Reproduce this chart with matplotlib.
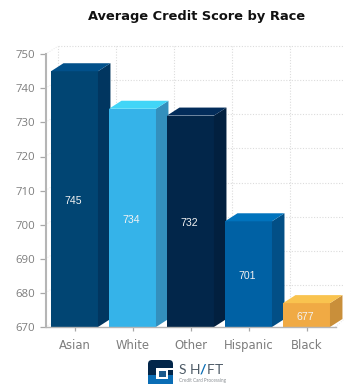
import matplotlib
matplotlib.use("Agg")
import matplotlib.pyplot as plt
from matplotlib.patches import Polygon, Rectangle, FancyBboxPatch

races = ["Asian", "White", "Other", "Hispanic", "Black"]
scores = [745, 734, 732, 701, 677]
yticks = [670, 680, 690, 700, 710, 720, 730, 740, 750]

front_colors = ["#014573", "#35b3e9", "#02264a", "#0061a4", "#f0aa44"]
top_colors = ["#01508a", "#42d5f7", "#032c5a", "#0073bd", "#f9c34f"]
side_colors = ["#013660", "#338fbd", "#02203f", "#024f86", "#c98f3a"]

W, H = 344, 384
fig = plt.figure(figsize=(W / 100, H / 100), dpi=100)
ax = fig.add_axes([45.5 / W, 1 - 327 / H, 290 / W, 272.8 / H])
ax.set_xlim(-0.5, 4.5)
ax.set_ylim(670, 750)

bar_w = 0.81
dx = 0.215   # depth of the fake 3d, in category units
dy = 2.35    # same, in score units
wall = "#dcdcdc"

# back wall grid
for t in yticks[1:]:
    ax.plot([-0.5 + dx, 4.5 + 0.15], [t + dy, t + dy], color=wall, lw=0.8, ls=(0, (1, 1.5)),
            clip_on=False, zorder=1)
for k in range(5):
    ax.plot([-0.5 + dx + k, -0.5 + dx + k], [670 + dy, 750 + dy], color=wall, lw=0.8,
            ls=(0, (1, 1.5)), clip_on=False, zorder=1)
for t in yticks:
    ax.plot([-0.5, -0.5 + dx], [t, t + dy], color="#e6e6e6", lw=0.7, ls=(0, (1, 1.5)),
            clip_on=False, zorder=1)
ax.plot([4.5, 4.5 + 0.15], [670, 670 + dy], color="#e6e6e6", lw=0.7, ls=(0, (1, 1.5)),
        clip_on=False, zorder=1)

for i, (s, name) in enumerate(zip(scores, races)):
    l = i - bar_w / 2
    r = i + bar_w / 2
    z = 3 + i
    ax.bar(i, s - 670, bottom=670, width=bar_w, color=front_colors[i], linewidth=0, zorder=z)
    ax.add_patch(Polygon([(r, 670), (r + dx, 670 + dy), (r + dx, s + dy), (r, s)],
                         closed=True, fc=side_colors[i], ec="none", clip_on=False, zorder=z))
    ax.add_patch(Polygon([(l, s), (l + dx, s + dy), (r + dx, s + dy), (r, s)],
                         closed=True, fc=top_colors[i], ec="none", clip_on=False, zorder=z))
    ax.annotate(str(s), (i, (s + 670) / 2), xytext=(-0.7, -1.5), textcoords="offset points",
                color="#f2f2f2", fontsize=7.6, ha="center", va="center",
                family="Liberation Sans", zorder=20)

ax.patch.set_visible(False)
for side in ["top", "right"]:
    ax.spines[side].set_visible(False)
ax.spines["left"].set_color("#b5b5b5")
ax.spines["left"].set_linewidth(1.5)
ax.spines["bottom"].set_color("#b5b5b5")
ax.spines["bottom"].set_linewidth(1.0)
ax.spines["bottom"].set_zorder(15)

ax.set_xticks(range(5))
ax.set_xticklabels(races)
ax.set_yticks(yticks)
ax.tick_params(axis="y", length=4, width=0.9, color="#a8a8a8", labelcolor="#7d7d7d",
               labelsize=8.2, pad=3.5)
ax.tick_params(axis="x", length=3, width=0.9, color="#a8a8a8", labelcolor="#7d7d7d",
               labelsize=8.4, pad=5.5)
for lab in ax.get_yticklabels():
    lab.set_family("Open Sans")
for lab in ax.get_xticklabels():
    lab.set_family("DejaVu Sans")

fig.text(196.5 / W, 1 - 16.5 / H, "Average Credit Score by Race", fontsize=9.4, fontweight="bold",
         family="DejaVu Sans", color="#111111", ha="center", va="center")

# logo, drawn on a pixel-sized overlay
lg = fig.add_axes([0, 0, 1, 1])
lg.set_xlim(0, W)
lg.set_ylim(H, 0)
lg.axis("off")
lg.add_patch(FancyBboxPatch((148, 360), 25, 24, boxstyle="round,pad=0,rounding_size=4",
                            fc="#02264a", ec="none"))
lg.add_patch(Rectangle((148, 375), 25, 9, fc="#0a6db5", ec="none"))
lg.add_patch(Rectangle((156, 368), 17, 2, fc="white", ec="none"))
lg.add_patch(Rectangle((156, 368), 12, 11, fc="white", ec="none"))
lg.add_patch(Rectangle((158.5, 370.5), 7, 6, fc="#1c5a8c", ec="none"))

# wordmark letters are placed one by one for the wide tracking
for ch, x in zip("SHFT", [179, 190, 207, 215]):
    lg.text(x, 370, ch, fontsize=10, family="Lato", color="#4d5a66", va="center", ha="left")
lg.text(202.5, 370, "/", fontsize=10, family="Lato", fontweight="bold", color="#0a6db5",
        va="center", ha="center")
lg.text(179, 380.5, "Credit Card Processing", fontsize=3.3, family="Lato", color="#8a8f94",
        va="center", ha="left")

fig.savefig("out.png", dpi=100)
